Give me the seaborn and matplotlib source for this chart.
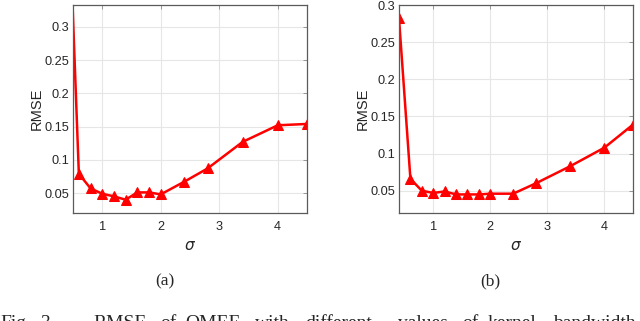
import numpy as np
import pandas as pd
import matplotlib
matplotlib.use("Agg")
import matplotlib.pyplot as plt
import seaborn as sns

# sigma values and RMSE
sigma_a = [0.4, 0.6, 0.8, 1.0, 1.2, 1.4, 1.6, 1.8, 2.0, 2.4, 2.8, 3.4, 4.0, 4.5]
rmse_a = [0.55, 0.079, 0.057, 0.049, 0.045, 0.040, 0.051, 0.051, 0.048, 0.067, 0.087, 0.127, 0.152, 0.154]

sigma_b = [0.4, 0.6, 0.8, 1.0, 1.2, 1.4, 1.6, 1.8, 2.0, 2.4, 2.8, 3.4, 4.0, 4.5]
rmse_b = [0.282, 0.066, 0.050, 0.047, 0.049, 0.045, 0.045, 0.045, 0.046, 0.046, 0.060, 0.083, 0.108, 0.139]

yticks = [0.05, 0.1, 0.15, 0.2, 0.25, 0.3]
ytick_labels = ["0.05", "0.1", "0.15", "0.2", "0.25", "0.3"]
xticks = [1, 2, 3, 4]
panel_labels = ["(a)", "(b)"]
caption_words = ["Fig.", "3.", "RMSE", "of", "OMEE", "with", "different",
                 "values", "of", "kernel", "bandwidth"]
caption_x = [0, 40, 93, 160, 185, 255, 305, 398, 462, 488, 553]

sns.set_style("whitegrid")
plt.rcParams['font.family'] = ['Liberation Sans', 'DejaVu Sans']

fig = plt.figure(figsize=(6.4, 3.21), dpi=100)
W, H = 640, 321

def px_axes(l, t, r, b):
    return fig.add_axes([l / W, 1 - b / H, (r - l) / W, (b - t) / H])

ax_a = px_axes(73, 5, 307, 213)
ax_b = px_axes(399, 5, 633, 213)

setups = [
    (ax_a, sigma_a, rmse_a, (0.5, 4.5), (0.02, 0.333)),
    (ax_b, sigma_b, rmse_b, (0.4, 4.5), (0.02, 0.3)),
]

for ax, xs, ys, xl, yl in setups:
    df = pd.DataFrame({"sigma": xs, "rmse": ys})
    sns.lineplot(data=df, x="sigma", y="rmse", ax=ax, color="red", marker="^",
                 markersize=7.5, markeredgecolor="red", linewidth=1.8)
    ax.set_xlim(*xl)
    ax.set_ylim(*yl)
    ax.set_xticks(xticks)
    ax.set_yticks(yticks)
    ax.set_yticklabels(ytick_labels)
    ax.grid(True, color="#e6e6e6", linewidth=0.8)
    for s in ax.spines.values():
        s.set_visible(True)
        s.set_color("#5a5a5a")
        s.set_linewidth(0.9)
    ax.tick_params(direction="in", length=3, width=0.6, color="#8a8a8a",
                   top=True, right=True, labelsize=9.2, labelcolor="#262626")
    ax.tick_params(axis="y", pad=2.5)
    ax.tick_params(axis="x", pad=6)
    ax.set_xlabel(r"$\sigma$", fontsize=11, color="#262626", labelpad=4)
    ax.set_ylabel("RMSE", fontsize=10.5, color="#262626", labelpad=1)

fig.text(165 / W, 1 - 281 / H, panel_labels[0], ha="center", va="center",
         fontsize=12.5, family="Liberation Serif")
fig.text(490 / W, 1 - 281 / H, panel_labels[1], ha="center", va="center",
         fontsize=12.5, family="Liberation Serif")
for word, x in zip(caption_words, caption_x):
    fig.text(x / W, 1 - 328 / H, word, ha="left", va="baseline",
             fontsize=14, family="Liberation Serif")

fig.savefig("out.png", dpi=100)
